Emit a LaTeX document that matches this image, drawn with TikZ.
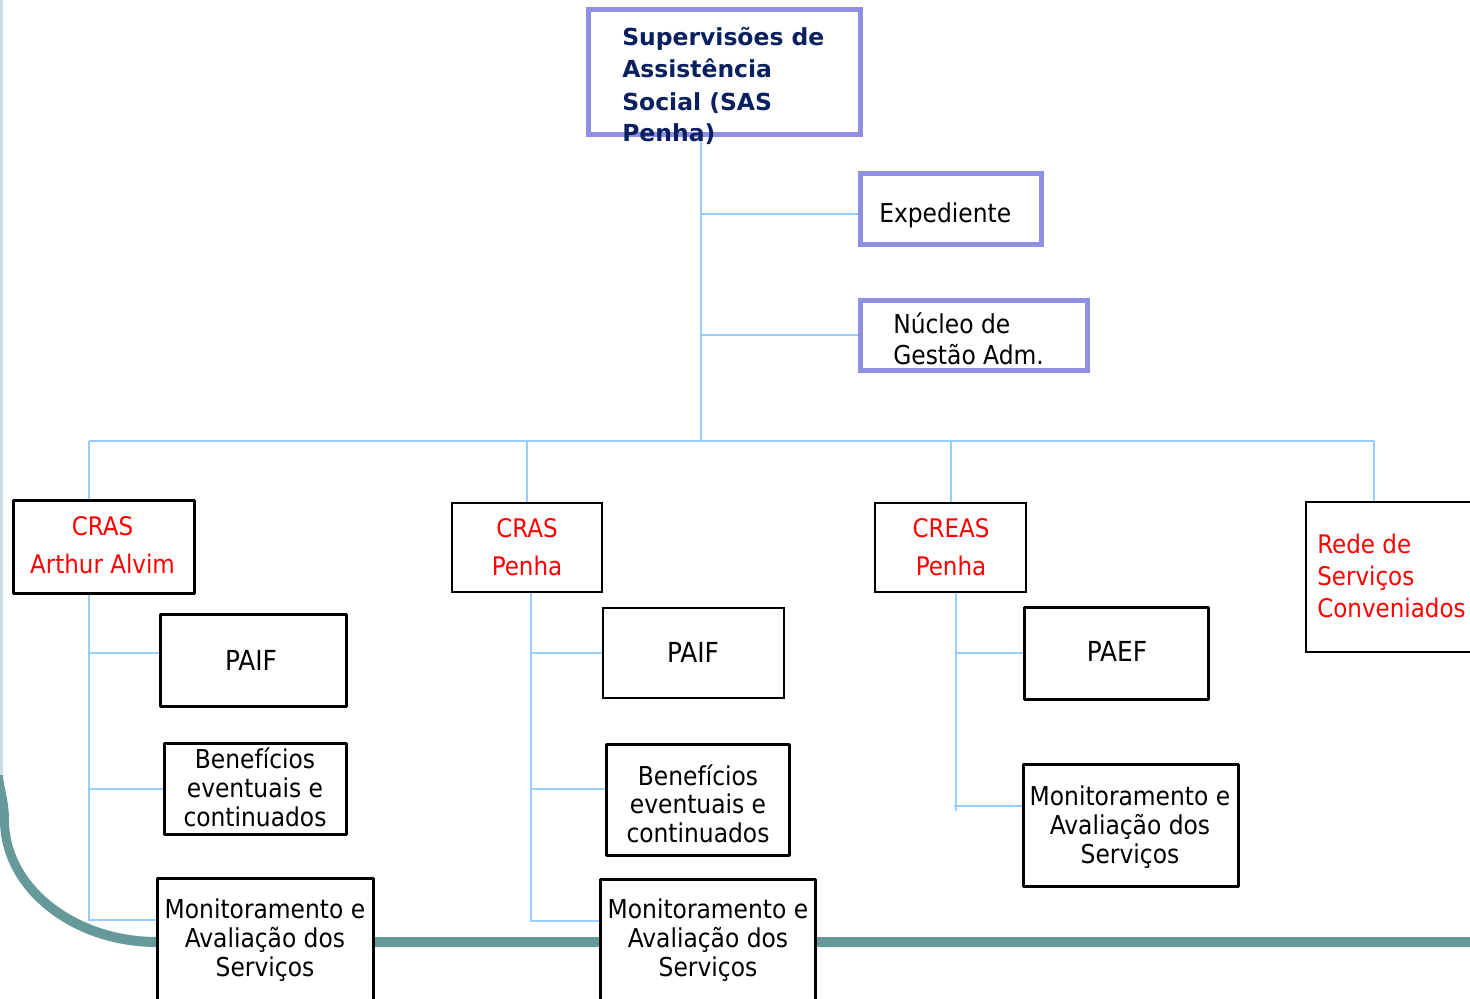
\documentclass[tikz,border=0pt]{standalone}
\usepackage{fontspec}
\setmainfont{DejaVu Sans}
\IfFontExistsTF{DejaVu Sans Condensed}
  {\newfontfamily\cf{DejaVu Sans Condensed}\def\szn{19.5}\def\szr{19.2}\def\szb{20.7}}
  {\newfontfamily\cf{DejaVu Sans}\def\szn{17.3}\def\szr{17.3}\def\szb{18.6}}
\definecolor{lav}{RGB}{143,143,227}
\definecolor{navy}{RGB}{8,32,96}
\definecolor{cblue}{RGB}{153,204,255}
\definecolor{tealD}{RGB}{102,153,153}
\definecolor{tealL}{RGB}{200,224,224}
\newcommand\mylinesc[1]{\begin{tabular}[t]{@{}c@{}}#1\end{tabular}}
\newcommand\mylinesl[1]{\begin{tabular}[t]{@{}l@{}}#1\end{tabular}}
\begin{document}
\begin{tikzpicture}[x=0.75pt,y=-0.75pt,
  lavbox/.style={draw=lav, line width=3.75pt, fill=white, inner sep=0pt},
  thkbox/.style={draw=black, line width=2.5pt, fill=white, inner sep=0pt, line join=round},
  thnbox/.style={draw=black, line width=1.5pt, fill=white, inner sep=0pt},
  sz/.style 2 args={minimum width=#1*0.75pt, minimum height=#2*0.75pt},
  conn/.style={draw=cblue, line width=1.5pt},
  ttl/.style={inner sep=0pt, anchor=base west, text=navy, font=\bfseries\fontsize{17.6}{24}\selectfont},
  lavtxt/.style={inner sep=0pt, anchor=base west, font=\cf\fontsize{\szn}{23.25}\selectfont},
  redtxt/.style={inner sep=0pt, anchor=base, text=red, font=\cf\fontsize{\szr}{29}\selectfont},
  redtxtl/.style={inner sep=0pt, anchor=base west, text=red, font=\cf\fontsize{\szr}{24}\selectfont},
  blktxt/.style={inner sep=0pt, anchor=base, font=\cf\fontsize{\szn}{21.75}\selectfont},
  bigtxt/.style={inner sep=0pt, anchor=base, font=\cf\fontsize{\szb}{22}\selectfont}
]
\useasboundingbox (0,0) rectangle (1470,999);
\clip (0,0) rectangle (1470,999);

% background decoration
\draw[tealL, line width=2.25pt] (1.5,0) -- (1.5,790);
\fill[tealD] (0,775) -- (0,820) .. controls (0,890.1) and (70.3,947) .. (157,947) -- (1470,947)
  -- (1470,937) -- (157,937) .. controls (75.8,937) and (9,884.6) .. (9,820)
  .. controls (9,800) and (3,785) .. (3,775) -- cycle;

% boxes
\node[lavbox, sz={272}{124}] (sas) at (724,72) {};
\node[lavbox, sz={181}{71}] (exp) at (950.5,208.5) {};
\node[lavbox, sz={227}{70}] (nuc) at (973.5,335) {};

\node[thkbox, sz={181}{93}] (crasaa) at (104,547) {};
\node[thnbox, sz={150}{89}] (crasp) at (527,547.5) {};
\node[thnbox, sz={151}{89}] (creas) at (950.5,547.5) {};
\node[thnbox, sz={200}{150}] (rede) at (1405.5,577) {};

\node[thkbox, sz={186}{92}] (paif1) at (253.5,660.5) {};
\node[thkbox, sz={182}{91}] (bene1) at (255.5,789) {};
\node[thkbox, sz={216}{160}] (mon1) at (265.5,958.5) {};

\node[thnbox, sz={181}{90}] (paif2) at (693.5,653) {};
\node[thkbox, sz={183}{111}] (bene2) at (698,800) {};
\node[thkbox, sz={215}{160}] (mon2) at (708,959.5) {};

\node[thkbox, sz={184}{92}] (paef) at (1116.5,653.5) {};
\node[thkbox, sz={215}{122}] (mon3) at (1131,825.5) {};

% connectors
\coordinate (trunk) at (701,440.5);
\coordinate (jexp) at (701,214);
\coordinate (jnuc) at (701,335);
\draw[conn] (sas.south -| trunk) -- (trunk);
\draw[conn] (jexp) -- (jexp -| exp.west);
\draw[conn] (jnuc) -- (jnuc -| nuc.west);

\coordinate (b1) at (89,440.5);
\coordinate (b2) at (527,440.5);
\coordinate (b3) at (951,440.5);
\coordinate (b4) at (1374,440.5);
\draw[conn] (b1) -- (b4);
\draw[conn] (b1) -- (b1 |- crasaa.north);
\draw[conn] (b2) -- (b2 |- crasp.north);
\draw[conn] (b3) -- (b3 |- creas.north);
\draw[conn] (b4) -- (b4 |- rede.north);

\coordinate (v1) at (89,921);
\coordinate (j1a) at (89,653);
\coordinate (j1b) at (89,789);
\coordinate (j1c) at (89,920);
\draw[conn] (v1 |- crasaa.south) -- (v1);
\draw[conn] (j1a) -- (j1a -| paif1.west);
\draw[conn] (j1b) -- (j1b -| bene1.west);
\draw[conn] (j1c) -- (j1c -| mon1.west);

\coordinate (v2) at (531,922);
\coordinate (j2a) at (531,653);
\coordinate (j2b) at (531,789);
\coordinate (j2c) at (531,921);
\draw[conn] (v2 |- crasp.south) -- (v2);
\draw[conn] (j2a) -- (j2a -| paif2.west);
\draw[conn] (j2b) -- (j2b -| bene2.west);
\draw[conn] (j2c) -- (j2c -| mon2.west);

\coordinate (v3) at (956,811);
\coordinate (j3a) at (956,653);
\coordinate (j3b) at (954,806);
\draw[conn] (v3 |- creas.south) -- (v3);
\draw[conn] (j3a) -- (j3a -| paef.west);
\draw[conn] (j3b) -- (j3b -| mon3.west);

% texts
\node[ttl] (sastxt) at (622,46) {\mylinesl{Supervisões de\\Assistência\\Social (SAS\\Penha)}};
\node[lavtxt] (exptxt) at (879,222) {Expediente};
\node[lavtxt] (nuctxt) at (893,333) {\mylinesl{Núcleo de\\Gestão Adm.}};

\node[redtxt] (crasaatxt) at (102.5,535) {\mylinesc{CRAS\\Arthur Alvim}};
\node[redtxt, font=\cf\fontsize{\szr}{28.5}\selectfont] (crasptxt) at (527,537) {\mylinesc{CRAS\\Penha}};
\node[redtxt, font=\cf\fontsize{\szr}{28.5}\selectfont] (creastxt) at (951,537) {\mylinesc{CREAS\\Penha}};
\node[redtxtl] (redetxt) at (1317,553) {\mylinesl{Rede de\\Serviços\\Conveniados}};

\node[bigtxt] (paif1txt) at (251,670) {PAIF};
\node[blktxt] (bene1txt) at (255,768) {\mylinesc{Benefícios\\eventuais e\\continuados}};
\node[blktxt] (mon1txt) at (265,918) {\mylinesc{Monitoramento e\\Avaliação dos\\Serviços}};

\node[bigtxt] (paif2txt) at (693,662) {PAIF};
\node[blktxt, font=\cf\fontsize{\szn}{21.4}\selectfont] (bene2txt) at (698,785) {\mylinesc{Benefícios\\eventuais e\\continuados}};
\node[blktxt] (mon2txt) at (708,918) {\mylinesc{Monitoramento e\\Avaliação dos\\Serviços}};

\node[bigtxt] (paeftxt) at (1117,661) {PAEF};
\node[blktxt] (mon3txt) at (1130,805) {\mylinesc{Monitoramento e\\Avaliação dos\\Serviços}};
\end{tikzpicture}
\end{document}
